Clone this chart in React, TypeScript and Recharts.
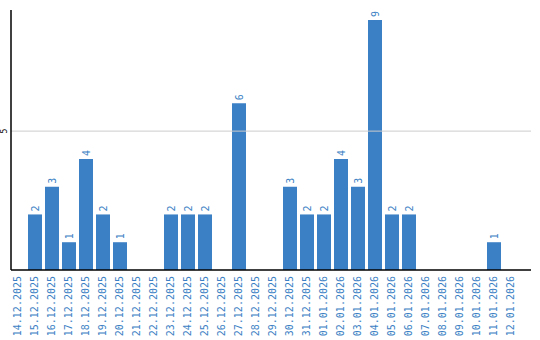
import { Bar, BarChart, LabelList, ReferenceLine, XAxis, YAxis } from "recharts";

const DATES = [
  "14.12.2025", "15.12.2025", "16.12.2025", "17.12.2025", "18.12.2025",
  "19.12.2025", "20.12.2025", "21.12.2025", "22.12.2025", "23.12.2025",
  "24.12.2025", "25.12.2025", "26.12.2025", "27.12.2025", "28.12.2025",
  "29.12.2025", "30.12.2025", "31.12.2025", "01.01.2026", "02.01.2026",
  "03.01.2026", "04.01.2026", "05.01.2026", "06.01.2026", "07.01.2026",
  "08.01.2026", "09.01.2026", "10.01.2026", "11.01.2026", "12.01.2026",
];

const COUNTS = [0, 2, 3, 1, 4, 2, 1, 0, 0, 2, 2, 2, 0, 6, 0, 0, 3, 2, 2, 4, 3, 9, 2, 2, 0, 0, 0, 0, 1, 0];

const Y_TICKS = [5];

const BLUE = "#3b7fc4";
const FONT = "'DejaVu Sans Mono', monospace";

const data = DATES.map((d, i) => ({ date: d, count: COUNTS[i] }));

const XTick = (props: any) => {
  const { x, payload } = props;
  return (
    <text
      x={0}
      y={0}
      transform={`translate(${x + 3},276) rotate(-90)`}
      textAnchor="end"
      fill={BLUE}
      fontSize={10}
      fontFamily={FONT}
    >
      {payload.value}
    </text>
  );
};

const YTick = (props: any) => {
  const { y, payload } = props;
  return (
    <text
      x={0}
      y={0}
      transform={`translate(7,${y}) rotate(-90)`}
      textAnchor="middle"
      fill="#000"
      fontSize={8}
      fontFamily={FONT}
    >
      {payload.value}
    </text>
  );
};

const BarLabel = (props: any) => {
  const { x, y, width, value } = props;
  if (!value) return null;
  const cx = x + width / 2 + 4;
  const cy = y - 3;
  return (
    <text
      x={0}
      y={0}
      transform={`translate(${cx},${cy}) rotate(-90)`}
      textAnchor="start"
      fill={BLUE}
      fontSize={10}
      fontFamily={FONT}
    >
      {value}
    </text>
  );
};

export default function App() {
  return (
    <div style={{ position: "absolute", left: 0, top: 0, background: "#fff" }}>
      <BarChart
        width={540}
        height={340}
        data={data}
        margin={{ top: 10, right: 9, left: 0, bottom: 0 }}
        barCategoryGap={1.5}
      >
        <XAxis
          dataKey="date"
          interval={0}
          height={70}
          padding={{ left: -1.5, right: 11.5 }}
          axisLine={{ stroke: "#000", strokeWidth: 1.5 }}
          tickLine={false}
          tick={<XTick />}
        />
        <YAxis
          width={11}
          domain={[0, 9.36]}
          ticks={Y_TICKS}
          axisLine={{ stroke: "#000", strokeWidth: 1.5 }}
          tickLine={false}
          tick={<YTick />}
        />
        {Y_TICKS.map((t) => (
          <ReferenceLine key={t} y={t} stroke="#cccccc" />
        ))}
        <Bar dataKey="count" fill={BLUE} isAnimationActive={false}>
          <LabelList dataKey="count" content={<BarLabel />} />
        </Bar>
      </BarChart>
    </div>
  );
}
